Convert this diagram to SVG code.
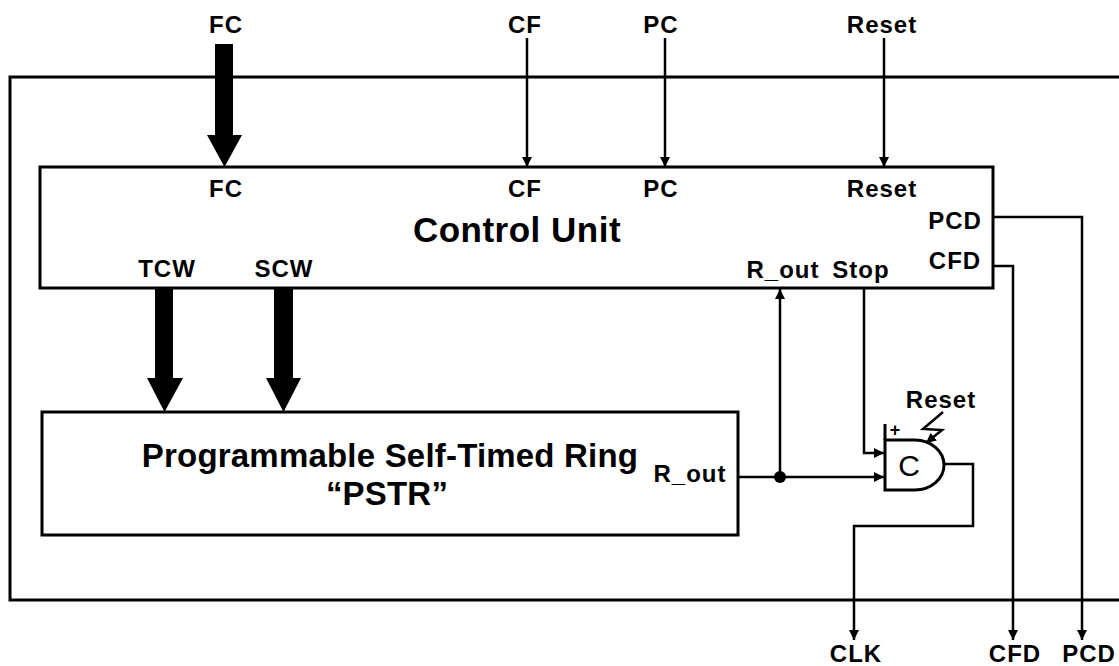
<svg xmlns="http://www.w3.org/2000/svg" width="1119" height="666" viewBox="0 0 1119 666">
<defs>
<style>
.b{fill:none;stroke:#000;stroke-width:3}
.w{fill:none;stroke:#000;stroke-width:2.5}
.t{font-family:"Liberation Sans",Arial,sans-serif;font-weight:bold;font-size:24px;fill:#000;text-anchor:middle;letter-spacing:1px}
.big{font-size:35px;letter-spacing:0.5px}
.mid{font-size:33px;letter-spacing:0.2px}
.thick{fill:#000;stroke:none}
</style>
<marker id="ah" markerUnits="userSpaceOnUse" markerWidth="10" markerHeight="10" refX="10" refY="5" orient="auto">
<path d="M0,0 L10,5 L0,10 z" fill="#000"/>
</marker>
</defs>
<rect width="1119" height="666" fill="#fff"/>
<g id="frame"><rect class="b" x="10" y="77" width="1130" height="523"/></g>
<g id="control-unit">
<rect class="b" x="40" y="167" width="953" height="121" fill="#fff"/>
<text class="t big" x="517" y="242">Control Unit</text>
<text class="t" x="226" y="197">FC</text>
<text class="t" x="525" y="197">CF</text>
<text class="t" x="661" y="197">PC</text>
<text class="t" x="882" y="197">Reset</text>
<text class="t" x="955" y="229">PCD</text>
<text class="t" x="955" y="269">CFD</text>
<text class="t" x="167" y="277">TCW</text>
<text class="t" x="284" y="277">SCW</text>
<text class="t" x="783" y="278">R_out</text>
<text class="t" x="861" y="278">Stop</text>
</g>
<g id="pstr">
<rect class="b" x="42" y="412" width="696" height="123"/>
<text class="t mid" x="390" y="467">Programmable Self-Timed Ring</text>
<text class="t mid" x="387" y="505">“PSTR”</text>
<text class="t" x="690" y="482">R_out</text>
</g>
<g id="c-element">
<path class="b" d="M885,440 H915 A29,25 0 0 1 915,490 H885 Z" fill="#fff"/>
<line class="b" x1="885" y1="440" x2="885" y2="424"/>
<text x="895" y="436" font-family="Liberation Sans,Arial,sans-serif" font-weight="bold" font-size="18" text-anchor="middle">+</text>
<text x="909" y="476" font-family="Liberation Sans,Arial,sans-serif" font-size="30" text-anchor="middle">C</text>
<text class="t" x="941" y="408">Reset</text>
<polyline class="w" points="943,412 923,429 942,430 926,443" marker-end="url(#ah)" stroke-width="2.5"/>
</g>
<g id="labels">
<text class="t" x="226" y="33">FC</text>
<text class="t" x="525" y="33">CF</text>
<text class="t" x="661" y="33">PC</text>
<text class="t" x="882" y="33">Reset</text>
<text class="t" x="856" y="662">CLK</text>
<text class="t" x="1015" y="662">CFD</text>
<text class="t" x="1089" y="662">PCD</text>
</g>
<g id="connectors">
<polygon class="thick" points="215,44 233,44 233,135 242,135 224.5,167 207,135 215,135"/>
<polygon class="thick" points="155,289 173,289 173,378 183,378 164.5,412 147,378 155,378"/>
<polygon class="thick" points="274,289 293,289 293,378 301,378 283.5,412 266,378 274,378"/>
<line class="w" x1="527" y1="38" x2="527" y2="167" marker-end="url(#ah)"/>
<line class="w" x1="665" y1="38" x2="665" y2="167" marker-end="url(#ah)"/>
<line class="w" x1="884" y1="38" x2="884" y2="167" marker-end="url(#ah)"/>
<polyline class="w" points="993,217 1082,217 1082,640" marker-end="url(#ah)"/>
<polyline class="w" points="993,266 1013,266 1013,640" marker-end="url(#ah)"/>
<line class="w" x1="738" y1="477" x2="884" y2="477" marker-end="url(#ah)"/>
<line class="w" x1="780" y1="477" x2="780" y2="289" marker-end="url(#ah)"/>
<circle cx="780" cy="477" r="6" fill="#000"/>
<polyline class="w" points="864,289 864,453 884,453" marker-end="url(#ah)"/>
<polyline class="w" points="944,464 973,464 973,526 854,526 854,640" marker-end="url(#ah)"/>
</g>
</svg>
